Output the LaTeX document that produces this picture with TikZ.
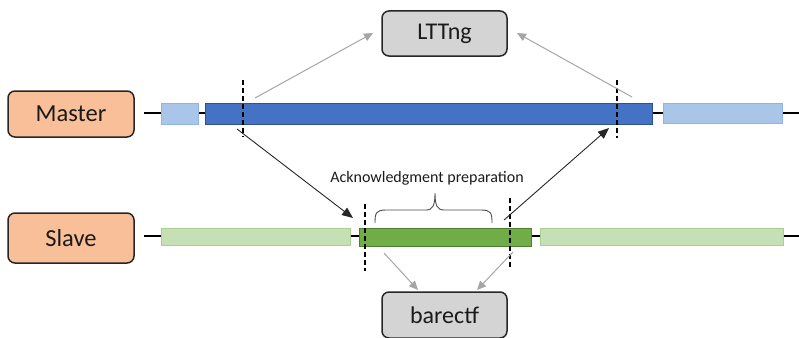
\documentclass[tikz,border=0pt]{standalone}
\usepackage{fontspec}
\setmainfont{Carlito}
\usetikzlibrary{arrows.meta}
\definecolor{peach}{HTML}{F8BF98}
\definecolor{boxgray}{HTML}{D4D4D4}
\definecolor{lblue}{HTML}{A9C5E8}
\definecolor{lblueb}{HTML}{8EB4E3}
\definecolor{dblue}{HTML}{4472C4}
\definecolor{dblueb}{HTML}{2F528F}
\definecolor{lgreen}{HTML}{C5E0B4}
\definecolor{lgreenb}{HTML}{A9D18E}
\definecolor{dgreen}{HTML}{70AD47}
\definecolor{dgreenb}{HTML}{507E32}
\definecolor{arrgray}{HTML}{A6A6A6}
\definecolor{txt}{HTML}{1A1A1A}
\begin{document}
\begin{tikzpicture}[x=1pt,y=-1pt,
  rolebox/.style={draw=black!85, line width=1.5pt, rounded corners=7pt, fill=peach,
    minimum width=126pt, inner sep=0pt, font=\fontsize{24.5}{28}\selectfont, text=txt},
  toolbox/.style={draw=black!85, line width=1.5pt, rounded corners=7pt, fill=boxgray,
    minimum width=125pt, inner sep=0pt, font=\fontsize{24}{28}\selectfont, text=txt},
  seg/.style={draw, line width=1pt, inner sep=0pt, anchor=north west},
  timeline/.style={line width=1.2pt, black},
  cut/.style={line width=1.6pt, black, dash pattern=on 5pt off 3pt},
  blackarrow/.style={line width=0.9pt, black!85, -{Triangle[length=11pt,width=9pt]}},
  grayarrow/.style={line width=1pt, arrgray, -{Triangle[length=9pt,width=8pt]}}
]
\useasboundingbox (0,0) rectangle (799,337);

% boxes
\node[rolebox, minimum height=46pt] (master) at (71,114) {Master};
\node[rolebox, minimum height=50pt] (slave) at (71,238) {Slave};
\node[toolbox, minimum height=45pt] (lttng) at (444.5,33.5) {LTTng};
\node[toolbox, minimum height=46pt] (barectf) at (444.5,315) {barectf};

% timelines
\coordinate (mstart) at (144,113);
\coordinate (mend) at (799,113);
\coordinate (sstart) at (144,236);
\coordinate (send) at (799,236);
\draw[timeline] (mstart) -- (mend);
\draw[timeline] (sstart) -- (send);

% master segments
\node[seg, fill=lblue, draw=lblueb, minimum width=37pt, minimum height=21pt] (m1) at (161,103) {};
\node[seg, fill=dblue, draw=dblueb, minimum width=447pt, minimum height=21pt] (m2) at (205,103) {};
\node[seg, fill=lblue, draw=lblueb, minimum width=119pt, minimum height=20pt] (m3) at (663,103) {};

% slave segments
\node[seg, fill=lgreen, draw=lgreenb, minimum width=189pt, minimum height=17pt] (s1) at (161,228) {};
\node[seg, fill=dgreen, draw=dgreenb, minimum width=172pt, minimum height=18pt] (s2) at (359,228) {};
\node[seg, fill=lgreen, draw=lgreenb, minimum width=243pt, minimum height=17pt] (s3) at (540,228) {};

% cut lines
\coordinate (c1a) at (243,80); \coordinate (c1b) at (243,137);
\coordinate (c2a) at (617,80); \coordinate (c2b) at (617,138);
\coordinate (c3a) at (365,204); \coordinate (c3b) at (365,271);
\coordinate (c4a) at (510,198); \coordinate (c4b) at (510,268);
\draw[cut] (c1a) -- (c1b);
\draw[cut] (c2a) -- (c2b);
\draw[cut] (c3a) -- (c3b);
\draw[cut] (c4a) -- (c4b);

% gray arrows to tools
\coordinate (g1) at (255,98);
\coordinate (g1e) at (373,33);
\coordinate (g2) at (632,97);
\coordinate (g2e) at (517,33);
\coordinate (g3) at (384,253);
\coordinate (g3e) at (418,290);
\coordinate (g4) at (513,252);
\coordinate (g4e) at (477,290);
\draw[grayarrow] (g1) -- (g1e);
\draw[grayarrow] (g2) -- (g2e);
\draw[grayarrow] (g3) -- (g3e);
\draw[grayarrow] (g4) -- (g4e);

% black arrows between master and slave
\coordinate (b1) at (237,129);
\coordinate (b1e) at (353,218);
\coordinate (b2) at (504,220);
\coordinate (b2e) at (609,128);
\draw[blackarrow] (b1) -- (b1e);
\draw[blackarrow] (b2) -- (b2e);

% brace and label
\coordinate (br1) at (375,223);
\coordinate (br2) at (492,223);
\coordinate (brtip) at (435,193);
\draw[black!70, line width=0.9pt]
  (br1) .. controls (375,213) and (376,210) .. (386,210) -- (426,210)
  .. controls (433,210) and (435,205) .. (brtip)
  .. controls (435,205) and (437,210) .. (444,210) -- (481,210)
  .. controls (491,210) and (492,213) .. (br2);
\node[font=\fontsize{16}{19}\selectfont, text=txt] (ack) at (427,178) {Acknowledgment preparation};
\end{tikzpicture}
\end{document}
